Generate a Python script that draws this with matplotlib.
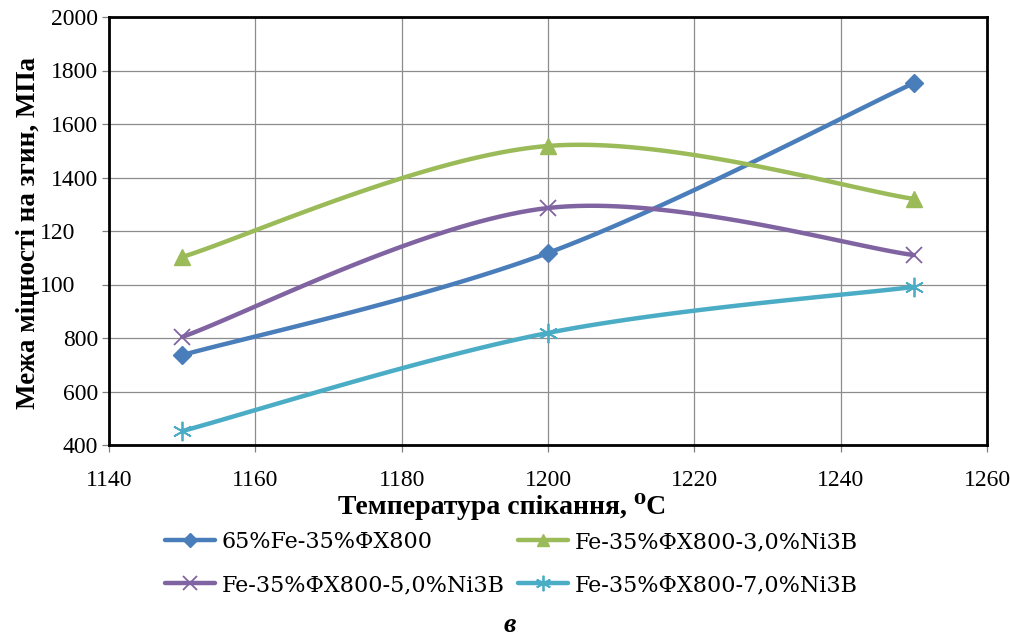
import numpy as np
import matplotlib
matplotlib.use("Agg")
import matplotlib.pyplot as plt
from matplotlib.transforms import ScaledTranslation

# Sintering temperature, °C
temperature = [1150, 1200, 1250]

# Bending strength, MPa
s_base = [736, 1118, 1753]
s_ni3 = [1103, 1518, 1320]
s_ni5 = [804, 1286, 1110]
s_ni7 = [452, 819, 991]

labels = ["65%Fe-35%ФХ800", "Fe-35%ФХ800-3,0%Ni3B",
          "Fe-35%ФХ800-5,0%Ni3B", "Fe-35%ФХ800-7,0%Ni3B"]

x_ticks = [1140, 1160, 1180, 1200, 1220, 1240, 1260]
y_ticks = [400, 600, 800, 1000, 1200, 1400, 1600, 1800, 2000]
y_tick_labels = ["400", "600", "800", "100", "120", "1400", "1600", "1800", "2000"]

SERIF = ["Liberation Serif", "DejaVu Serif"]
plt.rcParams["font.family"] = SERIF


def smooth(xs, ys, n=40):
    """Piecewise cubic Bezier (Catmull-Rom style) through the given points."""
    p = np.column_stack([xs, ys]).astype(float)
    m = len(p)
    out = []
    for i in range(m - 1):
        p0 = p[i - 1] if i > 0 else p[i]
        p1, p2 = p[i], p[i + 1]
        p3 = p[i + 2] if i + 2 < m else p[i + 1]
        c1 = p1 + (p2 - p0) / 6.0
        c2 = p2 - (p3 - p1) / 6.0
        t = np.linspace(0, 1, n, endpoint=(i == m - 2))[:, None]
        seg = ((1 - t) ** 3) * p1 + 3 * ((1 - t) ** 2) * t * c1 \
            + 3 * (1 - t) * t ** 2 * c2 + t ** 3 * p2
        out.append(seg)
    curve = np.vstack(out)
    idx = [i * n for i in range(m - 1)] + [len(curve) - 1]
    return curve[:, 0], curve[:, 1], idx


fig = plt.figure(figsize=(10.1, 6.41), dpi=100)
ax = fig.add_axes([109 / 1010, 1 - 445 / 641, 878 / 1010, 428 / 641])

series = [
    (s_base, "#4A7EBB", "D", 9, {}),
    (s_ni3, "#9BBB59", "^", 11, {}),
    (s_ni5, "#8064A2", "x", 12, {"markeredgewidth": 1.3}),
    (s_ni7, "#4BACC6", (6, 2, 0), 14, {"markeredgewidth": 1.3}),
]

handles = []
for (vals, color, mk, ms, extra), lab in zip(series, labels):
    cx, cy, idx = smooth(temperature, vals)
    h, = ax.plot(cx, cy, color=color, lw=3.2, marker=mk, markersize=ms,
                 markevery=idx, markerfacecolor=color, markeredgecolor=color,
                 label=lab, solid_capstyle="round", zorder=3, **extra)
    handles.append(h)

ax.set_xlim(1140, 1260)
ax.set_ylim(400, 2000)
ax.set_xticks(x_ticks)
ax.set_yticks(y_ticks)
ax.set_yticklabels(y_tick_labels)
ax.grid(True, color="#8c8c8c", lw=0.9)
ax.set_axisbelow(True)

for sp in ax.spines.values():
    sp.set_color("black")
    sp.set_linewidth(2)

ax.tick_params(axis="x", direction="out", length=5, width=0.9, color="#808080",
               pad=13, labelsize=17)
ax.tick_params(axis="y", direction="out", length=5, width=0.9, color="#808080",
               pad=3, labelsize=17)

# truncated labels sit further left
for lbl in ax.get_yticklabels():
    if lbl.get_text() in ("100", "120"):
        lbl.set_transform(lbl.get_transform() +
                          ScaledTranslation(-23 / 100, 0, fig.dpi_scale_trans))

fig.text(502 / 1010, 1 - 506 / 641, "Температура спікання, ⁰C",
         ha="center", va="center", fontsize=20, fontweight="bold")
fig.text(29 / 1010, 1 - 233 / 641, "Межа міцності на згин, МПа",
         ha="center", va="center", rotation=90, fontsize=19.5, fontweight="bold")

# row-wise order: base, 3% / 5%, 7%
order = [0, 2, 1, 3]
leg = fig.legend([handles[i] for i in order], [labels[i] for i in order],
                 loc="upper left", bbox_to_anchor=(165 / 1010, 1 - 531 / 641),
                 ncol=2, frameon=False, handlelength=2.25,
                 handletextpad=0.3, columnspacing=0.6, labelspacing=0.95,
                 numpoints=1, borderaxespad=0, borderpad=0, markerscale=0.8,
                 prop={"family": "DejaVu Serif", "size": 16})

fig.text(510 / 1010, 1 - 626 / 641, "в", ha="center", va="center",
         fontsize=20, fontweight="bold", fontstyle="italic")

fig.savefig("out.png", dpi=100)
